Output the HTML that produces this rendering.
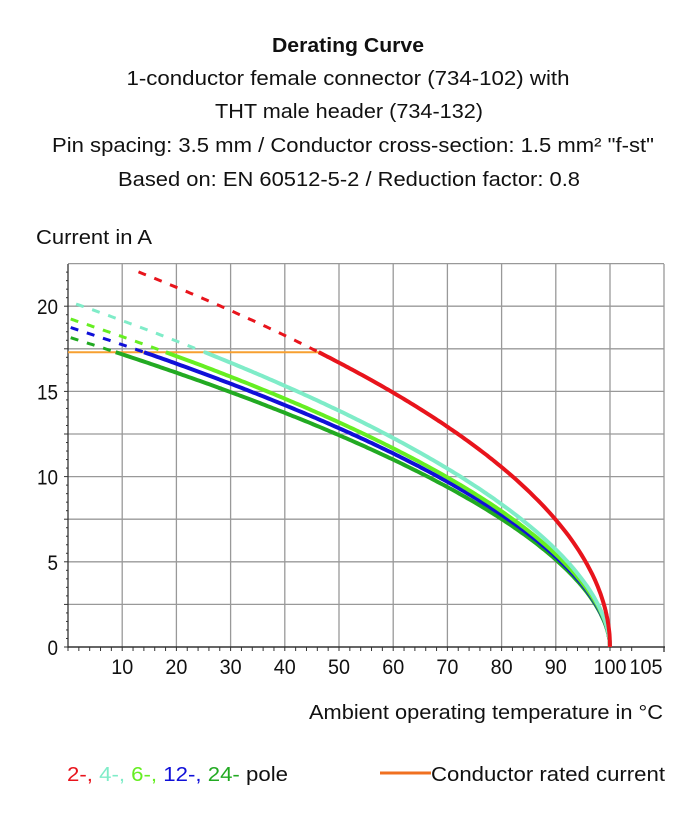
<!DOCTYPE html>
<html><head><meta charset="utf-8"><style>
html,body{margin:0;padding:0;background:#fff;}
svg{display:block;font-family:"Liberation Sans",sans-serif;}
</style></head><body>
<svg id="s" width="697" height="817" viewBox="0 0 697 817" xmlns="http://www.w3.org/2000/svg">
<g font-size="20" fill="#111" text-anchor="middle">
<text x="348" y="52" font-weight="bold" textLength="152" lengthAdjust="spacingAndGlyphs">Derating Curve</text>
<text x="348" y="85" textLength="443" lengthAdjust="spacingAndGlyphs">1-conductor female connector (734-102) with</text>
<text x="349" y="118" textLength="268" lengthAdjust="spacingAndGlyphs">THT male header (734-132)</text>
<text x="353" y="152" textLength="602" lengthAdjust="spacingAndGlyphs">Pin spacing: 3.5 mm / Conductor cross-section: 1.5 mm² "f-st"</text>
<text x="349" y="186" textLength="462" lengthAdjust="spacingAndGlyphs">Based on: EN 60512-5-2 / Reduction factor: 0.8</text>
</g>
<text x="36" y="244" font-size="20" fill="#111" textLength="116" lengthAdjust="spacingAndGlyphs">Current in A</text>
<text x="309" y="719" font-size="20" fill="#111" textLength="354" lengthAdjust="spacingAndGlyphs">Ambient operating temperature in °C</text>
<g id="grid"></g>
<g id="curves"></g>
<g font-size="20">
<text x="67" y="781" textLength="221" lengthAdjust="spacingAndGlyphs"><tspan fill="#e8141c">2-, </tspan><tspan fill="#7fecc8">4-, </tspan><tspan fill="#66ee22">6-, </tspan><tspan fill="#1010d8">12-, </tspan><tspan fill="#22aa22">24- </tspan><tspan fill="#111">pole</tspan></text>
<line x1="380" y1="773" x2="431" y2="773" stroke="#f07020" stroke-width="3"/>
<text x="431" y="781" fill="#111" textLength="234" lengthAdjust="spacingAndGlyphs">Conductor rated current</text>
</g>
</svg>
<script>
var NS="http://www.w3.org/2000/svg";
function X(t){return 68+5.42*t;}
function Y(a){return 647-17.04*a;}
function el(p,tag,at,txt){var e=document.createElementNS(NS,tag);for(var k in at)e.setAttribute(k,at[k]);if(txt!==undefined)e.textContent=txt;p.appendChild(e);return e;}
var g=document.getElementById('grid');
for(var i=1;i<=9;i++){var a=i*2.5;el(g,'line',{x1:68,x2:664,y1:Y(a),y2:Y(a),stroke:'#999','stroke-width':1.3});}
for(var t=10;t<=100;t+=10){el(g,'line',{x1:X(t),x2:X(t),y1:264,y2:647,stroke:'#999','stroke-width':1.3});}
el(g,'line',{x1:664,x2:664,y1:264,y2:647,stroke:'#999','stroke-width':1.3});
el(g,'line',{x1:68,x2:68,y1:264,y2:648,stroke:'#333','stroke-width':1.3});
el(g,'line',{x1:68,x2:665,y1:647,y2:647,stroke:'#333','stroke-width':1.5});
for(var a=0;a<=22;a+=0.5){var w=(a%2.5==0)?4:2;el(g,'line',{x1:68-w,x2:68,y1:Y(a),y2:Y(a),stroke:'#333','stroke-width':1});}
for(var t=0;t<=105;t+=2){el(g,'line',{x1:X(t),x2:X(t),y1:647,y2:651,stroke:'#333','stroke-width':1});}
el(g,'line',{x1:664,x2:664,y1:647,y2:652,stroke:'#333','stroke-width':1.3});
[0,5,10,15,20].forEach(function(a){var s=String(a);el(g,'text',{x:58,y:Y(a)+8,'font-size':21,'text-anchor':'end',fill:'#111',textLength:s.length*10.5,lengthAdjust:'spacingAndGlyphs'},s);});
for(var t=10;t<=100;t+=10){var s=String(t);el(g,'text',{x:X(t),y:674,'font-size':21,'text-anchor':'middle',fill:'#111',textLength:s.length*11,lengthAdjust:'spacingAndGlyphs'},s);}
el(g,'text',{x:646,y:674,'font-size':21,'text-anchor':'middle',fill:'#111',textLength:33,lengthAdjust:'spacingAndGlyphs'},'105');
var c=document.getElementById('curves');
el(c,'line',{x1:68,x2:X(46.5),y1:Y(17.3),y2:Y(17.3),stroke:'#f7a030','stroke-width':2});
var S=[['#22aa22',18.2,0.55,0.5],['#1010d8',18.8,0.55,0.5],['#66ee22',19.3,0.55,0.5],['#7fecc8',20.3,0.55,1.5],['#e8141c',23.6,0.5,13]];
S.forEach(function(s){var col=s[0],I0=s[1],p=s[2],t0=s[3];
 function f(t){return I0*Math.pow(Math.max(0,100-t)/100,p);}
 var tc=100-100*Math.pow(17.3/I0,1/p);
 var d='';for(var t=t0;t<=tc;t+=0.5){d+=(d?'L':'M')+X(t).toFixed(1)+','+Y(f(t)).toFixed(1);}
 d+='L'+X(tc).toFixed(1)+','+Y(17.3).toFixed(1);
 el(c,'path',{d:d,fill:'none',stroke:col,'stroke-width':3,'stroke-dasharray':'8,9'});
 d='';var ts=[];for(var t=tc;t<99;t+=0.5)ts.push(t);for(var t=99;t<=100;t+=0.05)ts.push(t);ts.push(100);
 ts.forEach(function(t,i){d+=(i?'L':'M')+X(t).toFixed(1)+','+Y(f(t)).toFixed(1);});
 el(c,'path',{d:d,fill:'none',stroke:col,'stroke-width':4,'stroke-linejoin':'round'});
});
</script>
</body></html>
